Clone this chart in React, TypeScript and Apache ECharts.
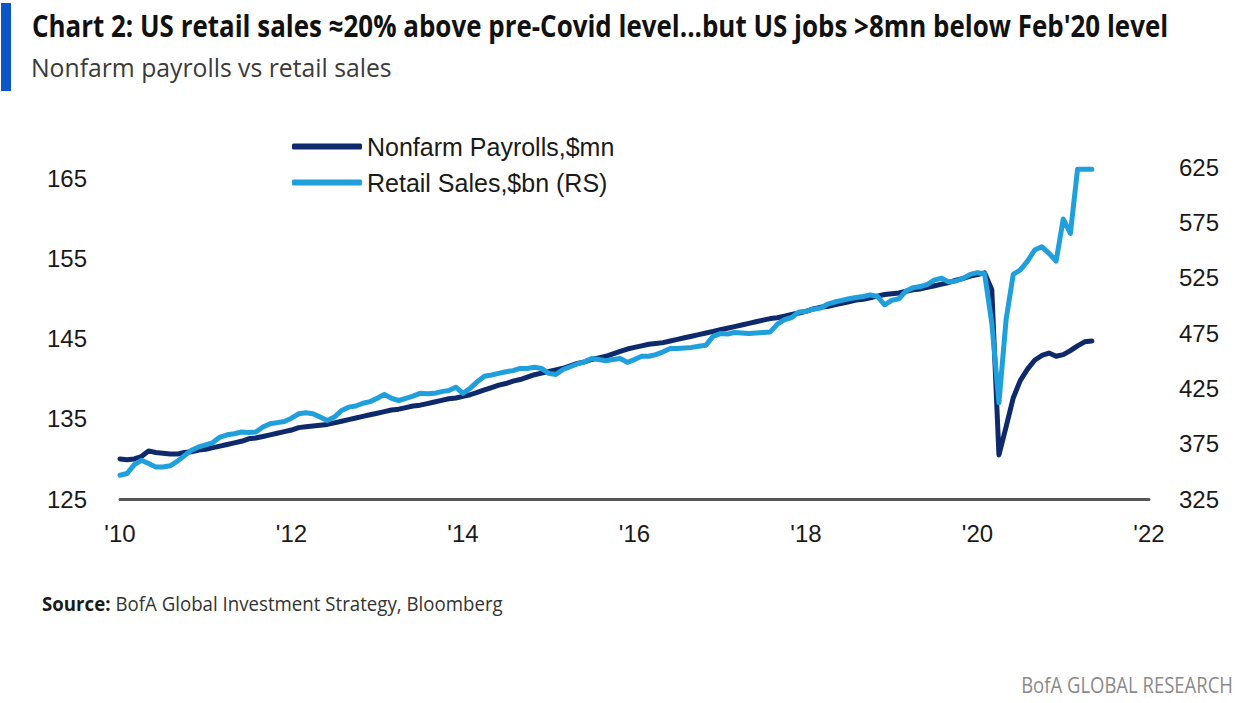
import React, { useEffect, useRef } from "react";
import * as echarts from "echarts";

const TITLE = "Chart 2: US retail sales ≈20% above pre-Covid level...but US jobs >8mn below Feb'20 level";
const SUBTITLE = "Nonfarm payrolls vs retail sales";
const SOURCE_LABEL = "Source:";
const SOURCE_TEXT = "BofA Global Investment Strategy, Bloomberg";
const FOOTER = "BofA GLOBAL RESEARCH";
const SERIES_NAMES = ["Nonfarm Payrolls,$mn", "Retail Sales,$bn (RS)"];

const START_YEAR = 2010;
const X_MIN = 2010;
const X_MAX = 2022;
const X_STEP = 2;
const LEFT_MIN = 125;
const LEFT_MAX = 166.4;
const LEFT_STEP = 10;
const RIGHT_MIN = 325;
const RIGHT_MAX = 625;
const RIGHT_STEP = 50;

// Nonfarm payrolls, mn (monthly, Jan 2010 - May 2021)
const nonfarmPayrolls = [
  // 2010
  130.0, 129.9, 130.0, 130.3, 131.0, 130.8, 130.7, 130.6, 130.6, 130.8, 130.9, 131.1,
  // 2011
  131.2, 131.4, 131.6, 131.8, 132.0, 132.2, 132.5, 132.6, 132.8, 133.0, 133.2, 133.4,
  // 2012
  133.6, 133.9, 134.0, 134.1, 134.2, 134.3, 134.5, 134.7, 134.9, 135.1, 135.3, 135.5,
  // 2013
  135.7, 135.9, 136.1, 136.2, 136.4, 136.6, 136.7, 136.9, 137.1, 137.3, 137.5, 137.6,
  // 2014
  137.8, 138.0, 138.3, 138.6, 138.9, 139.2, 139.4, 139.7, 139.9, 140.2, 140.5, 140.7,
  // 2015
  140.9, 141.1, 141.3, 141.6, 141.9, 142.1, 142.4, 142.6, 142.8, 143.1, 143.4, 143.7,
  // 2016
  143.9, 144.1, 144.3, 144.4, 144.5, 144.7, 144.9, 145.1, 145.3, 145.5, 145.7, 145.9,
  // 2017
  146.1, 146.3, 146.5, 146.7, 146.9, 147.1, 147.3, 147.5, 147.6, 147.8, 148.0, 148.2,
  // 2018
  148.4, 148.7, 148.9, 149.0, 149.2, 149.4, 149.6, 149.8, 149.9, 150.1, 150.3, 150.5,
  // 2019
  150.6, 150.7, 150.9, 151.1, 151.2, 151.4, 151.6, 151.8, 152.0, 152.3, 152.5, 152.8,
  // 2020
  153.0, 153.2, 151.1, 130.5, 134.0, 137.6, 139.8, 141.2, 142.3, 142.9, 143.2, 142.8,
  // 2021
  143.0, 143.5, 144.1, 144.6, 144.7,
];

// Retail sales, $bn (monthly, Jan 2010 - May 2021)
const retailSales = [
  // 2010
  346.5, 348, 356, 360, 357, 354, 354, 355, 359, 364, 369, 372,
  // 2011
  374, 376, 381, 383, 384, 385.5, 385, 385.5, 390, 393, 394, 395,
  // 2012
  398, 402, 403, 402, 399, 396, 399, 405, 408, 409, 411.5, 413,
  // 2013
  416, 419.5, 416, 414, 416, 418, 420.5, 420, 420.5, 422, 423, 426,
  // 2014
  420.5, 425, 431, 436, 437, 438.5, 440, 441, 443, 443, 444, 443,
  // 2015
  438.5, 437.5, 442, 444.5, 447, 449, 452, 451, 450, 451, 452, 448.5,
  // 2016
  451, 454, 454, 455.5, 458, 461, 461, 461.5, 462, 463, 464, 472,
  // 2017
  474.5, 474, 475.5, 475, 474.5, 475, 475.5, 476, 483, 487, 489, 494,
  // 2018
  494.5, 496.5, 497.5, 501, 503, 504.5, 506, 507, 508, 509.5, 508, 500.5,
  // 2019
  504.5, 506, 513, 516, 517, 519, 523, 524.5, 521, 522, 524.5, 528,
  // 2020
  529.5, 528.5, 484, 412, 487, 528, 532, 540, 550, 553, 547, 540,
  // 2021
  578, 565, 623, 623, 623,
];

const AXIS_FONT = '"Liberation Sans", Arial, Helvetica, sans-serif';
const TITLE_FONT = '"Open Sans", "Noto Sans", sans-serif';

function measure(text: string, font: string): number {
  const c = document.createElement("canvas").getContext("2d");
  if (!c) return text.length * 10;
  c.font = font;
  return c.measureText(text).width;
}

export default function App() {
  const ref = useRef<HTMLDivElement>(null);

  useEffect(() => {
    document.body.style.margin = "0";
    if (!ref.current) return;
    const chart = echarts.init(ref.current, undefined, { renderer: "svg" });

    const monthX = nonfarmPayrolls.map((_, i) => START_YEAR + i / 12);
    const nfData = nonfarmPayrolls.map((v, i) => [monthX[i], v]);
    const rsData = retailSales.map((v, i) => [monthX[i], v]);

    const titleSize = 31;
    const titleW = measure(TITLE, `bold ${titleSize}px "Open Sans"`);
    const titleScale = 1136 / titleW;

    const subSize = 25;
    const subW = measure(SUBTITLE, `${subSize}px "Open Sans"`);
    const subScale = 361 / subW;

    const srcSize = 20;
    const srcW =
      measure(SOURCE_LABEL, `bold ${srcSize}px "Open Sans"`) +
      measure(" " + SOURCE_TEXT, `${srcSize}px "Open Sans"`);
    const srcScale = 461 / srcW;

    const footSize = 22;
    const footW = measure(FOOTER, `${footSize}px "Open Sans"`);
    const footScale = 212 / footW;

    const option: any = {
      animation: false,
      textStyle: { fontFamily: AXIS_FONT },
      grid: {
        left: 120,
        right: 101,
        top: 167,
        bottom: 204,
        containLabel: false,
        outerBoundsMode: "none",
      },
      legend: {
        data: SERIES_NAMES,
        orient: "vertical",
        left: 292,
        top: 134,
        padding: 0,
        itemWidth: 70,
        itemHeight: 6,
        itemGap: 11,
        icon: "roundRect",
        textStyle: { fontSize: 25, color: "#1a1a1a", fontFamily: AXIS_FONT },
      },
      xAxis: {
        type: "value",
        min: X_MIN,
        max: X_MAX,
        interval: X_STEP,
        axisLine: { show: true, lineStyle: { color: "#555555", width: 3 } },
        axisTick: { show: false },
        splitLine: { show: false },
        axisLabel: {
          fontSize: 24,
          color: "#1a1a1a",
          margin: 22,
          fontFamily: AXIS_FONT,
          formatter: (v: number) => "'" + String(v).slice(2),
        },
      },
      yAxis: [
        {
          type: "value",
          position: "left",
          min: LEFT_MIN,
          max: LEFT_MAX,
          interval: LEFT_STEP,
          axisLine: { show: false },
          axisTick: { show: false },
          splitLine: { show: false },
          axisLabel: {
            fontSize: 24,
            color: "#1a1a1a",
            margin: 33,
            fontFamily: AXIS_FONT,
            formatter: (v: number) => (Number.isInteger(v) ? String(v) : ""),
          },
        },
        {
          type: "value",
          position: "right",
          min: RIGHT_MIN,
          max: RIGHT_MAX,
          interval: RIGHT_STEP,
          axisLine: { show: false },
          axisTick: { show: false },
          splitLine: { show: false },
          axisLabel: {
            fontSize: 24,
            color: "#1a1a1a",
            margin: 30,
            fontFamily: AXIS_FONT,
          },
        },
      ],
      series: [
        {
          name: SERIES_NAMES[0],
          type: "line",
          yAxisIndex: 0,
          data: nfData,
          showSymbol: false,
          symbol: "none",
          color: "#0f2a6c",
          lineStyle: { width: 5, color: "#0f2a6c", cap: "round", join: "round" },
          z: 2,
        },
        {
          name: SERIES_NAMES[1],
          type: "line",
          yAxisIndex: 1,
          data: rsData,
          showSymbol: false,
          symbol: "none",
          color: "#1f9fdc",
          lineStyle: { width: 5, color: "#1f9fdc", cap: "round", join: "round" },
          z: 3,
        },
      ],
      graphic: [
        {
          type: "rect",
          shape: { x: 1, y: 3, width: 10, height: 88 },
          style: { fill: "#0a55c8" },
        },
        {
          type: "text",
          x: 32,
          y: 25,
          scaleX: titleScale,
          style: {
            text: TITLE,
            fontSize: titleSize,
            fontWeight: "bold",
            fontFamily: TITLE_FONT,
            fill: "#111111",
            align: "left",
            verticalAlign: "middle",
          },
        },
        {
          type: "text",
          x: 31,
          y: 67,
          scaleX: subScale,
          style: {
            text: SUBTITLE,
            fontSize: subSize,
            fontFamily: TITLE_FONT,
            fill: "#3a3a3a",
            align: "left",
            verticalAlign: "middle",
          },
        },
        {
          type: "text",
          x: 42,
          y: 603,
          scaleX: srcScale,
          style: {
            text: "{b|" + SOURCE_LABEL + "}{n| " + SOURCE_TEXT + "}",
            fontSize: srcSize,
            fontFamily: TITLE_FONT,
            align: "left",
            verticalAlign: "middle",
            rich: {
              b: { fontSize: srcSize, fontWeight: "bold", fontFamily: TITLE_FONT, fill: "#1a1a1a" },
              n: { fontSize: srcSize, fontFamily: TITLE_FONT, fill: "#333333" },
            },
          },
        },
        {
          type: "text",
          x: 1233,
          y: 684,
          scaleX: footScale,
          style: {
            text: FOOTER,
            fontSize: footSize,
            fontFamily: TITLE_FONT,
            fill: "#8a8a8a",
            align: "right",
            verticalAlign: "middle",
          },
        },
      ],
    };

    chart.setOption(option);
    return () => chart.dispose();
  }, []);

  return <div ref={ref} style={{ width: 1250, height: 703 }} />;
}
